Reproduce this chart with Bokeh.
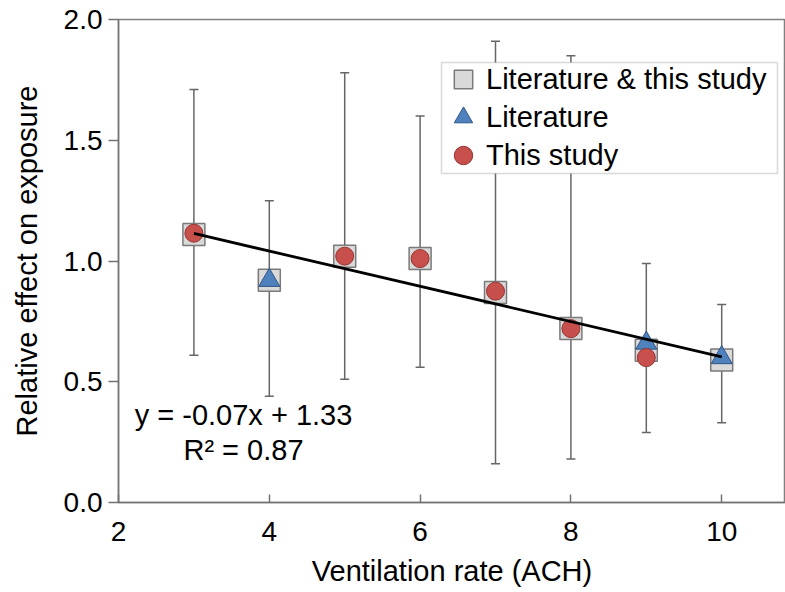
import numpy as np
from bokeh.plotting import figure
from bokeh.models import (FixedTicker, NumeralTickFormatter, Legend, LegendItem,
                          Label, BoxAnnotation, Range1d)
from bokeh.embed import file_html
from bokeh.resources import INLINE

# ---------------- data ----------------
x_rate = [3, 4, 5, 6, 7, 8, 9, 10]
combined = [1.11, 0.92, 1.02, 1.01, 0.87, 0.72, 0.63, 0.59]   # Literature & this study
err_low = [0.61, 0.44, 0.51, 0.56, 0.16, 0.18, 0.29, 0.33]
err_high = [1.71, 1.25, 1.78, 1.60, 1.91, 1.85, 0.99, 0.82]

lit_x = [4, 9, 10]
lit_y = [0.92, 0.66, 0.60]                                   # Literature

study_x = [3, 5, 6, 7, 8, 9]
study_y = [1.115, 1.02, 1.01, 0.875, 0.72, 0.60]             # This study

x_ticks = [2, 4, 6, 8, 10]
y_ticks = [0.0, 0.5, 1.0, 1.5, 2.0]
legend_labels = ["Literature & this study", "Literature", "This study"]
eq_text = "y = -0.07x + 1.33"
r2_text = "R² = 0.87"

FONT = "Liberation Sans"
AX = "#737373"
FS = "29px"

p = figure(width=785, height=592, output_backend="svg", toolbar_location=None,
           title=None,
           x_range=Range1d(2, 10.846), y_range=Range1d(0, 2),
           min_border_left=118, min_border_right=0, min_border_top=19,
           min_border_bottom=90)

p.xgrid.visible = False
p.ygrid.visible = False
p.outline_line_color = "#808080"
p.outline_line_width = 1.5
p.background_fill_color = "white"

# axes
p.xaxis.ticker = FixedTicker(ticks=x_ticks)
p.yaxis.ticker = FixedTicker(ticks=y_ticks)
p.yaxis.formatter = NumeralTickFormatter(format="0.0")
for ax in (p.xaxis, p.yaxis):
    ax.axis_line_color = AX
    ax.axis_line_width = 1.5
    ax.major_tick_line_color = AX
    ax.major_tick_line_width = 1.5
    ax.minor_tick_line_color = None
    ax.major_label_text_font = FONT
    ax.major_label_text_font_size = "28px"
    ax.major_label_text_color = "black"
    ax.axis_label_text_font = FONT
    ax.axis_label_text_font_size = FS
    ax.axis_label_text_font_style = "normal"
    ax.axis_label_text_color = "black"
p.xaxis.major_tick_in = 8
p.xaxis.major_tick_out = 0
p.yaxis.major_tick_in = 0
p.yaxis.major_tick_out = 10
p.xaxis.major_label_standoff = 19
p.yaxis.major_label_standoff = 6
p.xaxis.axis_label = "Ventilation rate (ACH)"
p.yaxis.axis_label = "Relative effect on exposure"
p.xaxis.axis_label_standoff = 11
p.yaxis.axis_label_standoff = 18

# error bars
ERR = "#666666"
p.segment(x0=x_rate, y0=err_low, x1=x_rate, y1=err_high, line_color=ERR, line_width=1.5)
p.scatter(x_rate, err_high, marker="dash", size=9, line_color=ERR, line_width=1.5)
p.scatter(x_rate, err_low, marker="dash", size=9, line_color=ERR, line_width=1.5)

# markers
sq = p.scatter(x_rate, combined, marker="square", size=22, fill_color="#d9d9d9",
               line_color="#7a7a7a", line_width=1.5)
tri = p.scatter(lit_x, lit_y, marker="triangle", size=21, fill_color="#4f81bd",
                line_color="#2f5587", line_width=1)
cir = p.scatter(study_x, study_y, marker="circle", size=18, fill_color="#c8504c",
                line_color="#943532", line_width=1)

# trend line (linear regression of combined data)
fit = np.polyfit(x_rate, combined, 1)
trend_x = [min(x_rate), max(x_rate)]
trend_y = list(np.polyval(fit, trend_x))
p.line(trend_x, trend_y, line_color="black", line_width=2.8)

# legend box
box = BoxAnnotation(left=441, right=777, top=62, bottom=173,
                    left_units="canvas", right_units="canvas",
                    top_units="canvas", bottom_units="canvas",
                    fill_color="white", fill_alpha=1.0,
                    line_color="#808080", line_width=1.5)
p.add_layout(box)

# one legend per entry so rows can sit closer than the glyph box height
for i, (lab, rend) in enumerate(zip(legend_labels, [sq, tri, cir])):
    leg = Legend(items=[LegendItem(label=lab, renderers=[rend])],
                 location=(322, 398 - 38 * i), glyph_width=46, glyph_height=50,
                 spacing=0, padding=0, margin=0, label_standoff=0,
                 label_height=50, label_text_font=FONT, label_text_font_size=FS,
                 label_text_color="black", label_text_baseline="middle",
                 background_fill_alpha=0, border_line_alpha=0)
    p.add_layout(leg, "center")

# regression equation
p.add_layout(Label(x=125, y=88, x_units="screen", y_units="screen", text=eq_text,
                   text_align="center", text_baseline="alphabetic",
                   text_font=FONT, text_font_size=FS, text_color="black"))
p.add_layout(Label(x=125, y=53, x_units="screen", y_units="screen", text=r2_text,
                   text_align="center", text_baseline="alphabetic",
                   text_font=FONT, text_font_size=FS, text_color="black"))

open("out.html", "w").write(file_html(p, INLINE))
